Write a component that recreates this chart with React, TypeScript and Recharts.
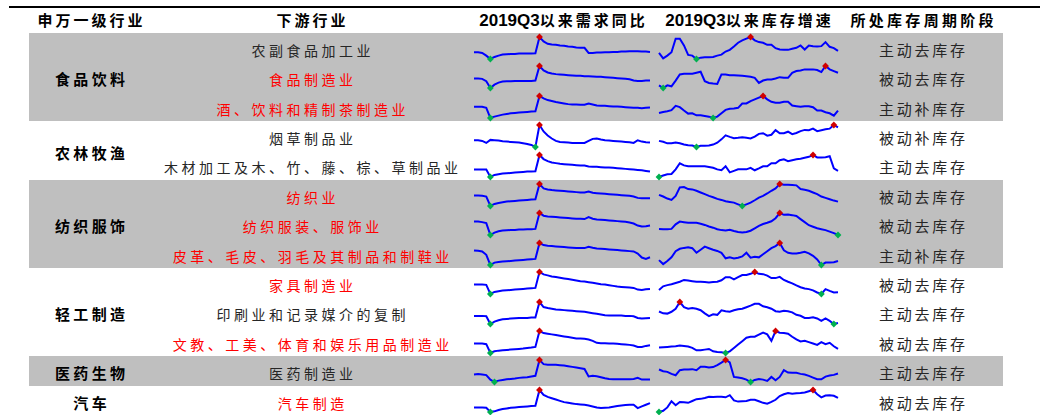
import { Line, LineChart, XAxis, YAxis } from 'recharts'

// 申万一级行业 and how many downstream rows each one covers
const sectors = ['食品饮料', '农林牧渔', '纺织服饰', '轻工制造', '医药生物', '汽车']
const sectorSpans = [3, 2, 3, 3, 1, 1]

const industries = [
  '农副食品加工业',
  '食品制造业',
  '酒、饮料和精制茶制造业',
  '烟草制品业',
  '木材加工及木、竹、藤、棕、草制品业',
  '纺织业',
  '纺织服装、服饰业',
  '皮革、毛皮、羽毛及其制品和制鞋业',
  '家具制造业',
  '印刷业和记录媒介的复制',
  '文教、工美、体育和娱乐用品制造业',
  '医药制造业',
  '汽车制造',
]
const redRows = [false, true, true, false, false, true, true, true, true, false, true, false, true]

const stages = [
  '主动去库存',
  '被动去库存',
  '主动补库存',
  '被动补库存',
  '主动去库存',
  '被动去库存',
  '被动去库存',
  '主动补库存',
  '被动去库存',
  '主动去库存',
  '被动去库存',
  '主动去库存',
  '被动去库存',
]

// monthly readings since 2019Q3, one list per downstream industry
const demand: number[][] = [
  [20, 20, 18, 10, 0, 6, 10, 13, 14, 15, 15, 16, 16, 16, 16, 17, 65, 52, 45, 43, 42, 40, 39, 37, 36, 34, 33, 33, 18, 18, 19, 19, 20, 20, 21, 21, 22, 22, 23, 23, 23, 22, 22, 21],
  [28, 28, 27, 20, 0, 10, 16, 19, 20, 20, 21, 21, 21, 21, 21, 22, 65, 52, 46, 43, 41, 40, 39, 38, 37, 36, 36, 35, 35, 34, 33, 33, 32, 31, 30, 29, 28, 27, 26, 22, 21, 21, 22, 22],
  [33, 33, 33, 30, 0, 4, 7, 10, 12, 14, 15, 16, 17, 18, 19, 20, 65, 58, 53, 50, 47, 45, 43, 41, 40, 40, 39, 39, 43, 40, 37, 36, 36, 35, 34, 34, 33, 32, 31, 30, 30, 29, 30, 31],
  [20, 20, 18, 12, 21, 20, 19, 17, 16, 15, 14, 13, 11, 9, 6, 0, 65, 46, 34, 25, 18, 15, 14, 13, 12, 12, 12, 12, 18, 24, 25, 22, 20, 19, 18, 17, 16, 15, 14, 12, 20, 16, 14, 13],
  [22, 22, 22, 22, 0, 6, 8, 10, 11, 12, 13, 14, 15, 16, 16, 17, 65, 53, 47, 43, 41, 39, 38, 37, 36, 35, 34, 34, 31, 30, 30, 29, 28, 28, 27, 26, 25, 24, 23, 22, 21, 20, 18, 16],
  [31, 31, 30, 28, 0, 6, 9, 11, 13, 14, 15, 16, 17, 18, 19, 20, 65, 52, 49, 47, 46, 45, 44, 43, 42, 41, 40, 40, 43, 39, 38, 37, 36, 35, 34, 33, 32, 31, 30, 28, 24, 23, 23, 23],
  [40, 40, 38, 35, 0, 7, 11, 13, 14, 15, 15, 16, 16, 17, 17, 18, 65, 57, 55, 54, 53, 52, 51, 50, 49, 48, 48, 47, 53, 48, 46, 45, 44, 43, 42, 41, 40, 39, 37, 34, 28, 25, 26, 28],
  [43, 42, 40, 30, 0, 7, 9, 10, 11, 12, 13, 14, 15, 16, 17, 18, 65, 59, 57, 56, 55, 54, 53, 52, 51, 50, 50, 50, 54, 51, 49, 48, 47, 46, 45, 44, 43, 42, 41, 40, 34, 22, 18, 23],
  [28, 28, 28, 27, 0, 6, 8, 10, 11, 12, 13, 14, 15, 16, 17, 18, 65, 58, 55, 52, 50, 48, 46, 44, 42, 40, 38, 37, 35, 33, 31, 29, 28, 26, 24, 22, 21, 20, 19, 18, 13, 12, 14, 15],
  [24, 24, 24, 23, 0, 7, 11, 14, 15, 16, 17, 18, 18, 18, 19, 19, 65, 50, 47, 45, 43, 42, 41, 40, 39, 38, 37, 36, 34, 32, 30, 28, 26, 25, 25, 25, 25, 24, 24, 23, 18, 16, 17, 18],
  [28, 28, 28, 26, 0, 5, 7, 8, 9, 10, 11, 12, 13, 15, 16, 18, 65, 59, 57, 55, 53, 51, 49, 47, 45, 43, 43, 42, 40, 36, 30, 29, 29, 28, 28, 27, 26, 25, 24, 22, 18, 18, 21, 23],
  [22, 23, 22, 20, 7, 0, 4, 6, 8, 9, 10, 12, 13, 14, 16, 18, 64, 52, 50, 50, 50, 49, 48, 46, 44, 42, 40, 38, 16, 18, 17, 14, 11, 9, 8, 8, 8, 8, 8, 9, 12, 7, 7, 7],
  [14, 14, 14, 13, 0, 2, 6, 9, 11, 13, 14, 15, 16, 17, 18, 19, 67, 52, 46, 42, 38, 34, 30, 28, 26, 24, 23, 22, 20, 17, 14, 12, 13, 14, 16, 18, 20, 21, 22, 22, 12, 17, 22, 27],
]

const inventory: number[][] = [
  [18, 2, 10, 20, 60, 60, 40, 12, 10, 0, 4, 5, 5, 6, 10, 13, 22, 27, 37, 48, 55, 60, 65, 55, 50, 48, 42, 42, 32, 28, 27, 27, 30, 33, 40, 28, 40, 38, 37, 38, 50, 36, 32, 24],
  [8, 0, 8, 5, 22, 40, 42, 42, 42, 45, 48, 20, 15, 13, 12, 40, 40, 38, 38, 37, 36, 35, 33, 30, 15, 22, 25, 25, 28, 32, 30, 30, 45, 50, 52, 55, 55, 55, 53, 47, 65, 55, 50, 45],
  [15, 18, 20, 23, 36, 32, 22, 13, 14, 8, 8, 6, 4, 0, 4, 14, 24, 27, 28, 30, 43, 43, 50, 55, 60, 65, 55, 48, 45, 45, 48, 48, 37, 35, 33, 35, 35, 32, 22, 22, 17, 14, 7, 22],
  [20, 17, 12, 12, 15, 12, 8, 6, 5, 0, 4, 4, 5, 8, 14, 25, 38, 33, 29, 30, 32, 30, 28, 34, 43, 45, 37, 40, 55, 45, 45, 50, 42, 46, 52, 56, 55, 60, 52, 55, 58, 60, 72, 64],
  [0, 5, 9, 10, 25, 45, 38, 35, 35, 35, 35, 35, 33, 30, 25, 22, 35, 15, 20, 25, 25, 25, 30, 22, 28, 35, 35, 45, 45, 55, 58, 52, 55, 58, 60, 63, 66, 72, 64, 64, 65, 68, 28, 20],
  [33, 28, 22, 18, 30, 55, 56, 50, 49, 45, 40, 35, 30, 26, 21, 18, 14, 12, 10, 5, 0, 5, 10, 17, 25, 30, 37, 45, 52, 65, 63, 63, 62, 61, 50, 48, 45, 40, 35, 28, 24, 20, 16, 13],
  [20, 19, 19, 20, 35, 44, 42, 40, 40, 40, 37, 33, 28, 24, 19, 16, 15, 17, 13, 10, 8, 10, 14, 22, 30, 36, 40, 45, 55, 72, 66, 67, 65, 62, 52, 42, 32, 27, 22, 19, 16, 11, 6, 0],
  [16, 3, 13, 25, 45, 53, 56, 58, 55, 40, 50, 60, 55, 50, 46, 40, 22, 25, 21, 24, 28, 40, 24, 27, 25, 35, 45, 55, 62, 72, 48, 40, 38, 38, 40, 43, 38, 30, 18, 0, 8, 8, 9, 13],
  [13, 25, 29, 32, 36, 40, 46, 44, 42, 40, 40, 39, 38, 39, 40, 45, 55, 55, 48, 55, 62, 62, 66, 72, 66, 65, 60, 52, 52, 56, 46, 40, 35, 28, 22, 18, 16, 12, 5, 0, 16, 10, 5, 6],
  [41, 35, 34, 40, 50, 72, 55, 50, 52, 50, 45, 35, 26, 32, 30, 45, 42, 40, 45, 48, 50, 55, 60, 66, 66, 58, 55, 50, 42, 40, 43, 42, 38, 30, 27, 20, 20, 22, 18, 10, 18, 10, 0, 3],
  [16, 17, 18, 19, 20, 22, 21, 19, 15, 8, 8, 10, 12, 5, 3, 2, 0, 5, 15, 25, 35, 45, 48, 48, 54, 60, 55, 36, 65, 60, 59, 57, 48, 40, 34, 36, 32, 28, 24, 32, 26, 30, 20, 12],
  [37, 32, 30, 24, 20, 35, 37, 37, 38, 35, 45, 45, 43, 44, 50, 57, 65, 58, 15, 13, 11, 7, 0, 6, 9, 7, 3, 15, 5, 15, 35, 28, 27, 27, 24, 22, 18, 13, 8, 8, 16, 19, 21, 25],
  [0, 4, 15, 35, 22, 33, 32, 30, 36, 42, 43, 46, 50, 49, 50, 50, 48, 55, 38, 34, 35, 36, 40, 40, 35, 30, 27, 33, 40, 52, 58, 62, 60, 61, 62, 64, 68, 72, 58, 48, 54, 55, 53, 46],
]

const CJK = '"Noto Sans CJK SC", "Noto Sans", sans-serif'
const ROW_TOP = 33
const ROW_H = 29.4
const PAD = 5

const rowTop = (i: number) => ROW_TOP + i * ROW_H
const rowMid = (i: number) => rowTop(i) + ROW_H / 2 + 2

type LabelProps = {
  x: number
  y: number
  size: number
  spacing: number
  bold?: boolean
  color?: string
  children: React.ReactNode
}

function Label({ x, y, size, spacing, bold, color = '#000', children }: LabelProps) {
  return (
    <div
      style={{
        position: 'absolute',
        left: x - 250,
        top: y - 12,
        width: 500,
        height: 24,
        lineHeight: '24px',
        textAlign: 'center',
        fontSize: size,
        letterSpacing: spacing,
        paddingLeft: spacing,
        boxSizing: 'border-box',
        fontWeight: bold ? 700 : 400,
        color,
        whiteSpace: 'nowrap',
      }}
    >
      {children}
    </div>
  )
}

function Spark({ values, left, top, width }: { values: number[]; left: number; top: number; width: number }) {
  const data = values.map((v, i) => ({ i, v }))
  const hi = values.indexOf(Math.max(...values))
  const lo = values.indexOf(Math.min(...values))
  const mark = (p: any) => {
    const { cx, cy, index } = p
    if (index !== hi && index !== lo) return <g key={`m${index}`} />
    const s = 3.4
    return (
      <path
        key={`m${index}`}
        d={`M${cx},${cy - s}L${cx + s},${cy}L${cx},${cy + s}L${cx - s},${cy}Z`}
        fill={index === hi ? '#d00000' : '#00b050'}
      />
    )
  }
  return (
    <div style={{ position: 'absolute', left: left - PAD, top }}>
      <LineChart width={width + PAD * 2} height={30} data={data} margin={{ top: 4, right: PAD, bottom: 4, left: PAD }}>
        <XAxis dataKey="i" type="number" domain={[0, values.length - 1]} hide />
        <YAxis domain={['dataMin', 'dataMax']} hide />
        <Line
          type="linear"
          dataKey="v"
          stroke="#0000ff"
          strokeWidth={2}
          dot={mark}
          activeDot={false}
          isAnimationActive={false}
        />
      </LineChart>
    </div>
  )
}

export default function App() {
  let start = 0
  const groups = sectors.map((name, g) => {
    const first = start
    start += sectorSpans[g]
    return { name, first, span: sectorSpans[g], shaded: g % 2 === 0 }
  })

  return (
    <div
      style={{
        position: 'absolute',
        left: 0,
        top: 0,
        width: 1040,
        height: 415,
        background: '#fff',
        overflow: 'hidden',
        fontFamily: CJK,
      }}
    >
      <div style={{ position: 'absolute', left: 9, top: 6, width: 1031, height: 2, background: '#000' }} />

      {groups
        .filter((g) => g.shaded)
        .map((g) => (
          <div
            key={g.name}
            style={{
              position: 'absolute',
              left: 29,
              top: rowTop(g.first),
              width: 974,
              height: g.span * ROW_H,
              background: '#bfbfbf',
            }}
          />
        ))}

      <Label x={90} y={20} size={15} spacing={3} bold>
        申万一级行业
      </Label>
      <Label x={311} y={20} size={15} spacing={3} bold>
        下游行业
      </Label>
      <Label x={562} y={20} size={15} spacing={3} bold>
        <span style={{ fontFamily: '"Liberation Sans", Arial, sans-serif', fontSize: 17, letterSpacing: 0 }}>2019Q3</span>
        以来需求同比
      </Label>
      <Label x={748} y={20} size={15} spacing={3} bold>
        <span style={{ fontFamily: '"Liberation Sans", Arial, sans-serif', fontSize: 17, letterSpacing: 0 }}>2019Q3</span>
        以来库存增速
      </Label>
      <Label x={922} y={20} size={15} spacing={3.3} bold>
        所处库存周期阶段
      </Label>

      {groups.map((g) => (
        <Label key={g.name} x={90} y={rowTop(g.first) + (g.span * ROW_H) / 2 + 2} size={15} spacing={3.3} bold>
          {g.name}
        </Label>
      ))}

      {industries.map((name, i) => (
        <Label key={name} x={311} y={rowMid(i)} size={14} spacing={3.5} color={redRows[i] ? '#ff0000' : '#262626'}>
          {name}
        </Label>
      ))}

      {stages.map((s, i) => (
        <Label key={i} x={922} y={rowMid(i)} size={15} spacing={2.8} color="#262626">
          {s}
        </Label>
      ))}

      {demand.map((vals, i) => (
        <Spark key={`d${i}`} values={vals} left={474} top={rowTop(i)} width={176} />
      ))}
      {inventory.map((vals, i) => (
        <Spark key={`s${i}`} values={vals} left={659} top={rowTop(i)} width={179} />
      ))}
    </div>
  )
}
